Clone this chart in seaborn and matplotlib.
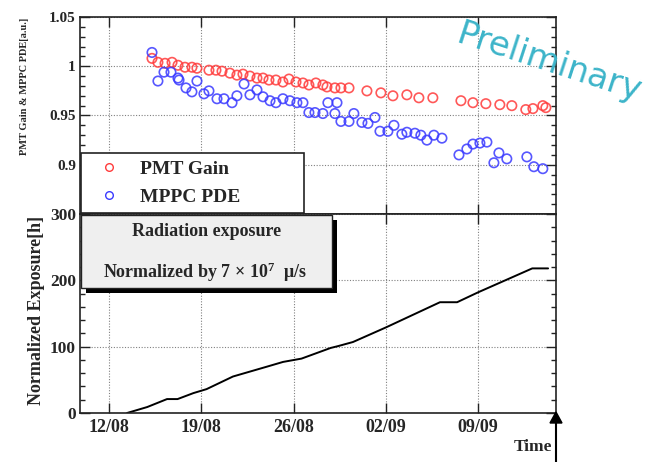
import matplotlib
matplotlib.use("Agg")
import matplotlib.pyplot as plt
from matplotlib.patches import Rectangle, Polygon
from matplotlib.lines import Line2D
from matplotlib.ticker import MultipleLocator, FixedLocator
import seaborn as sns
import pandas as pd

# ---------------- data (days since 12/08) ----------------
pmt_days = [3.26, 3.71, 4.25, 4.78, 5.23, 5.76, 6.29, 6.67, 7.58, 8.11, 8.57, 9.17,
            9.70, 10.16, 10.69, 11.22, 11.68, 12.13, 12.66, 13.19, 13.65, 14.18, 14.71,
            15.16, 15.69, 16.22, 16.53, 17.13, 17.59, 18.20, 19.56, 20.62, 21.53, 22.59,
            23.50, 24.56, 26.69, 27.60, 28.58, 29.64, 30.55, 31.61, 32.15, 32.90, 33.13]
pmt_gain = [1.008, 1.004, 1.003, 1.004, 1.001, 0.999, 0.999, 0.998, 0.996, 0.996, 0.995, 0.993,
            0.991, 0.992, 0.990, 0.988, 0.988, 0.986, 0.986, 0.984, 0.987, 0.984, 0.983,
            0.981, 0.983, 0.981, 0.979, 0.978, 0.978, 0.978, 0.975, 0.973, 0.970, 0.971,
            0.968, 0.968, 0.965, 0.963, 0.962, 0.961, 0.960, 0.956, 0.957, 0.960, 0.958]

mppc_days = [3.26, 3.71, 4.17, 4.70, 5.23, 5.31, 5.84, 6.29, 6.67, 7.20, 7.58, 8.19, 8.72,
             9.33, 9.70, 10.24, 10.69, 11.22, 11.68, 12.21, 12.66, 13.19, 13.72, 14.25,
             14.71, 15.16, 15.62, 16.22, 16.60, 17.29, 17.13, 17.59, 18.20, 18.57, 19.18,
             19.64, 20.17, 20.55, 21.15, 21.61, 22.21, 22.59, 23.20, 23.65, 24.11, 24.64,
             25.25, 26.54, 27.14, 27.60, 28.13, 28.66, 29.19, 29.57, 30.17, 31.69, 32.22, 32.90]
mppc_pde = [1.014, 0.985, 0.994, 0.994, 0.988, 0.986, 0.978, 0.974, 0.985, 0.972, 0.975, 0.967, 0.967,
            0.963, 0.970, 0.982, 0.971, 0.976, 0.969, 0.965, 0.963, 0.967, 0.965, 0.963,
            0.963, 0.953, 0.953, 0.952, 0.963, 0.963, 0.952, 0.944, 0.944, 0.952, 0.943,
            0.942, 0.948, 0.934, 0.934, 0.940, 0.931, 0.933, 0.932, 0.930, 0.925, 0.930,
            0.927, 0.910, 0.916, 0.921, 0.922, 0.923, 0.902, 0.912, 0.906, 0.908, 0.898, 0.896]

exp_days = [1.37, 2.9, 4.4, 5.2, 6.4, 7.4, 9.4, 12.0, 13.2, 14.6, 16.8, 17.4, 18.5, 21.0,
            25.1, 26.4, 28.0, 32.1, 33.3]
exp_hours = [0, 9, 21, 21, 30, 36, 55, 70, 77, 82, 98, 101, 107, 129,
             167, 167, 182, 218, 218]

tick_days = [0, 7, 14, 21, 28]
tick_labels = ["12/08", "19/08", "26/08", "02/09", "09/09"]

# ---------------- style ----------------
sns.set_theme(style="white")
plt.rcParams["font.family"] = ["Liberation Serif", "DejaVu Serif"]
plt.rcParams["font.weight"] = "bold"
plt.rcParams["mathtext.fontset"] = "custom"
plt.rcParams["mathtext.rm"] = "Liberation Serif:bold"
plt.rcParams["mathtext.it"] = "Liberation Serif:bold"
plt.rcParams["mathtext.bf"] = "Liberation Serif:bold"

W, H = 646, 462
fig = plt.figure(figsize=(W / 100, H / 100), dpi=100)
fig.patch.set_facecolor("white")

def fx(px):
    return px / W

def fy(py):
    return 1 - py / H

x0, x1 = 80, 556
ax_top = fig.add_axes([fx(x0), fy(214), fx(x1) - fx(x0), fy(17) - fy(214)])
ax_bot = fig.add_axes([fx(x0), fy(413), fx(x1) - fx(x0), fy(214) - fy(413)])

XLIM = (-2.2, 33.9)
red = "#ff3b3b"
blue = "#3a3aff"

df_pmt = pd.DataFrame({"day": pmt_days, "val": pmt_gain})
df_mppc = pd.DataFrame({"day": mppc_days, "val": mppc_pde})
df_exp = pd.DataFrame({"day": exp_days, "hours": exp_hours})

sns.scatterplot(data=df_pmt, x="day", y="val", ax=ax_top, marker="o", s=46,
                facecolors="none", edgecolors=red, linewidth=1.2, alpha=0.85, zorder=3)
sns.scatterplot(data=df_mppc, x="day", y="val", ax=ax_top, marker="o", s=46,
                facecolors="none", edgecolors=blue, linewidth=1.2, alpha=0.85, zorder=3)
sns.lineplot(data=df_exp, x="day", y="hours", ax=ax_bot, color="black", linewidth=1.4)

for ax in (ax_top, ax_bot):
    ax.set_xlim(*XLIM)
    ax.set_xlabel("")
    ax.set_ylabel("")
    ax.xaxis.set_major_locator(FixedLocator(tick_days))
    ax.grid(True, which="major", linestyle=(0, (1, 1.5)), color="#808080", linewidth=0.8)
    ax.tick_params(which="both", direction="in", top=True, right=True, left=True, bottom=True,
                   color="#222222", width=1.0)
    ax.tick_params(which="major", length=7)
    ax.tick_params(which="minor", length=3.5)
    for sp in ax.spines.values():
        sp.set_color("#222222")
        sp.set_linewidth(1.2)

ax_top.set_ylim(0.85, 1.05)
ax_top.yaxis.set_minor_locator(MultipleLocator(0.01))
ax_top.set_xticklabels([])
ax_top.set_yticks([0.85, 0.9, 0.95, 1.0, 1.05])
ax_top.set_yticklabels(["", "0.9", "0.95", "1", "1.05"])
ax_top.tick_params(axis="y", labelsize=11, pad=3)

ax_bot.set_ylim(0, 300)
ax_bot.yaxis.set_major_locator(MultipleLocator(100))
ax_bot.yaxis.set_minor_locator(MultipleLocator(20))
ax_bot.set_xticklabels(tick_labels)
ax_bot.tick_params(axis="y", labelsize=12.5, pad=3)
ax_bot.tick_params(axis="x", labelsize=13, pad=4)

# y labels
fig.text(fx(25), fy(86), "PMT Gain & MPPC PDE[a.u.]", rotation=90, ha="center", va="center",
         fontsize=7.5, fontweight="bold")
fig.text(fx(37), fy(310), "Normalized Exposure[h]", rotation=90, ha="center", va="center",
         fontsize=13, fontweight="bold")

# legend
handles = [Line2D([], [], linestyle="none", marker="o", markersize=5.5, markerfacecolor="none",
                  markeredgecolor=red, markeredgewidth=1.0, label="PMT Gain"),
           Line2D([], [], linestyle="none", marker="o", markersize=5.5, markerfacecolor="none",
                  markeredgecolor=blue, markeredgewidth=1.0, label="MPPC PDE")]
leg = ax_top.legend(handles=handles, loc="lower left",
                    bbox_to_anchor=(fx(81), fy(213), fx(304) - fx(81), fy(148) - fy(213)),
                    bbox_transform=fig.transFigure, mode="expand", borderaxespad=0,
                    fancybox=False, framealpha=1, edgecolor="#222222",
                    prop={"family": "Liberation Serif", "weight": "bold", "size": 14},
                    handlelength=2.2, handletextpad=0.5, labelspacing=0.55, borderpad=0.35)
leg.get_frame().set_linewidth(1.2)
leg.set_zorder(10)

# gray annotation box with shadow
shadow = Rectangle((fx(86), fy(293)), fx(337) - fx(86), fy(220) - fy(293),
                   transform=fig.transFigure, facecolor="black", edgecolor="none", zorder=6)
box = Rectangle((fx(81), fy(288)), fx(332) - fx(81), fy(215) - fy(288),
                transform=fig.transFigure, facecolor="#efefef", edgecolor="#222222",
                linewidth=1.0, zorder=7)
fig.add_artist(shadow)
fig.add_artist(box)
fig.text(fx(207), fy(232), "Radiation exposure", ha="center", va="center", fontsize=13,
         fontweight="bold", zorder=8)
fig.text(fx(205), fy(272), r"Normalized by 7 $\times$ 10$^{7}$  μ/s", ha="center", va="center",
         fontsize=13, fontweight="bold", zorder=8)

# Time axis arrow
fig.add_artist(Line2D([fx(556), fx(556)], [fy(462), fy(420)], transform=fig.transFigure,
                      color="black", linewidth=1.5, zorder=9))
fig.add_artist(Polygon([[fx(550), fy(423)], [fx(562), fy(423)], [fx(556), fy(412)]],
                       closed=True, transform=fig.transFigure,
                       facecolor="black", edgecolor="black", zorder=9))
fig.text(fx(533), fy(447), "Time", ha="center", va="center", fontsize=12.5, fontweight="bold")

# Preliminary watermark
fig.text(fx(549), fy(63), "Preliminary", ha="center", va="center", rotation=-18,
         rotation_mode="anchor", fontsize=24.5, color="#3cb4c9", family="DejaVu Sans",
         fontweight="normal", zorder=12)

fig.savefig("out.png", dpi=100, facecolor="white")
